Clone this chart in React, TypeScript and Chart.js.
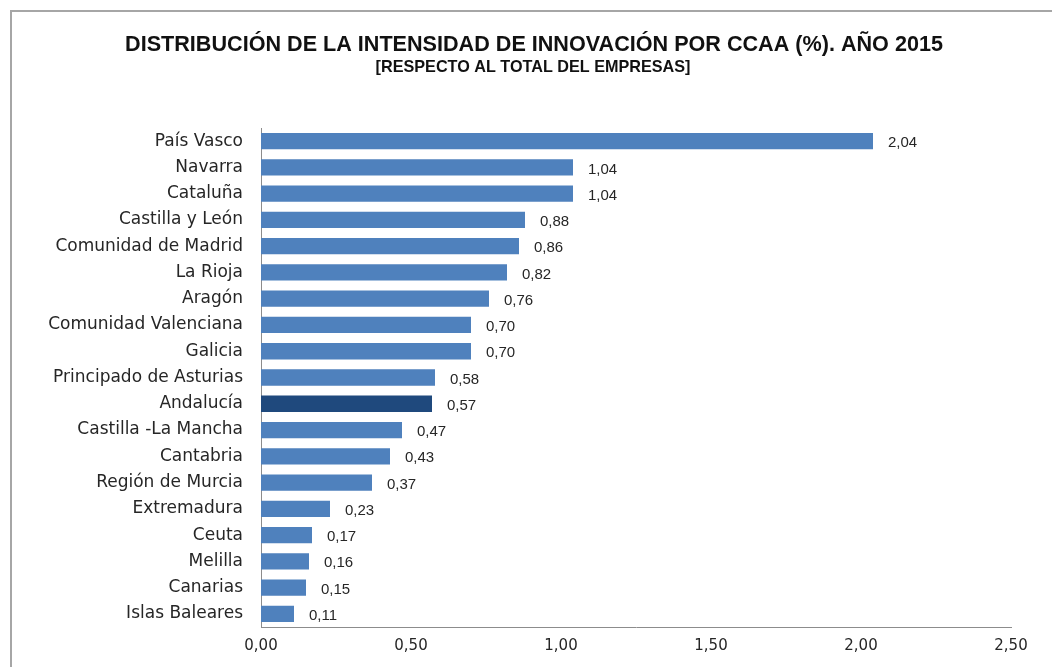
import React, { useEffect, useRef } from "react";
import { Chart, registerables } from "chart.js";

Chart.register(...registerables);

const categories = [
  "País Vasco",
  "Navarra",
  "Cataluña",
  "Castilla y León",
  "Comunidad de Madrid",
  "La Rioja",
  "Aragón",
  "Comunidad Valenciana",
  "Galicia",
  "Principado de Asturias",
  "Andalucía",
  "Castilla -La Mancha",
  "Cantabria",
  "Región de Murcia",
  "Extremadura",
  "Ceuta",
  "Melilla",
  "Canarias",
  "Islas Baleares",
];
const values = [2.04, 1.04, 1.04, 0.88, 0.86, 0.82, 0.76, 0.7, 0.7, 0.58, 0.57, 0.47, 0.43, 0.37, 0.23, 0.17, 0.16, 0.15, 0.11];
const highlighted = "Andalucía";
const xTicks = [0, 0.5, 1, 1.5, 2, 2.5];
const title = "DISTRIBUCIÓN DE LA INTENSIDAD DE INNOVACIÓN POR CCAA (%). AÑO 2015";
const subtitle = "[RESPECTO AL TOTAL DEL EMPRESAS]";

const fmt = (v: number) => v.toFixed(2).replace(".", ",");

const valueLabels = {
  id: "valueLabels",
  afterDatasetsDraw(chart: any) {
    const ctx = chart.ctx;
    const meta = chart.getDatasetMeta(0);
    ctx.save();
    ctx.font = "15px 'Liberation Sans', Arial, sans-serif";
    ctx.fillStyle = "#262626";
    ctx.textAlign = "left";
    ctx.textBaseline = "middle";
    meta.data.forEach((bar: any, i: number) => {
      ctx.fillText(fmt(values[i]), bar.x + 15, bar.y + 2);
    });
    ctx.restore();
  },
};

const titles = {
  id: "titles",
  afterDraw(chart: any) {
    const ctx = chart.ctx;
    ctx.save();
    ctx.fillStyle = "#111111";
    ctx.textAlign = "center";
    ctx.textBaseline = "middle";
    ctx.font = "bold 21.6px 'Liberation Sans', Arial, sans-serif";
    ctx.fillText(title, 534, 45);
    ctx.font = "bold 16.2px 'Liberation Sans', Arial, sans-serif";
    ctx.fillText(subtitle, 533, 68);
    ctx.restore();
  },
};

export default function App() {
  const ref = useRef<HTMLCanvasElement>(null);
  useEffect(() => {
    document.body.style.margin = "0";
    const chart = new Chart(ref.current!, {
      type: "bar",
      data: {
        labels: categories,
        datasets: [
          {
            data: values,
            backgroundColor: categories.map((c) => (c === highlighted ? "#1F497D" : "#4F81BD")),
            barPercentage: 0.62,
            categoryPercentage: 1,
          },
        ],
      },
      options: {
        indexAxis: "y",
        animation: false,
        responsive: false,
        layout: { padding: { top: 128, right: 41, bottom: 0, left: 0 } },
        plugins: {
          legend: { display: false },
          tooltip: { enabled: false },
          title: { display: false },
        },
        scales: {
          x: {
            min: 0,
            max: 2.5,
            afterBuildTicks: (s: any) => {
              s.ticks = xTicks.map((v) => ({ value: v }));
            },
            afterFit: (s: any) => {
              s.height = 40;
            },
            grid: { display: false, drawTicks: false },
            border: { display: true, color: "#8c8c8c", width: 1 },
            ticks: {
              padding: 10,
              color: "#262626",
              font: { family: "'DejaVu Sans', sans-serif", size: 15 },
              callback: (v: any) => fmt(Number(v)),
            },
          },
          y: {
            afterFit: (s: any) => {
              s.width = 261;
            },
            grid: { display: false, drawTicks: false },
            border: { display: true, color: "#8c8c8c", width: 1 },
            ticks: {
              padding: 18,
              color: "#262626",
              font: { family: "'DejaVu Sans', sans-serif", size: 17 },
            },
          },
        },
      },
      plugins: [valueLabels, titles],
    });
    return () => chart.destroy();
  }, []);
  return (
    <div style={{ position: "relative", width: 1052, height: 667, overflow: "hidden", background: "#fff" }}>
      <div
        style={{
          position: "absolute",
          left: 10,
          top: 10,
          width: 1100,
          height: 700,
          borderTop: "2px solid #a6a6a6",
          borderLeft: "2px solid #a6a6a6",
        }}
      />
      <canvas ref={ref} width={1052} height={667} style={{ position: "absolute", left: 0, top: 0 }} />
    </div>
  );
}
